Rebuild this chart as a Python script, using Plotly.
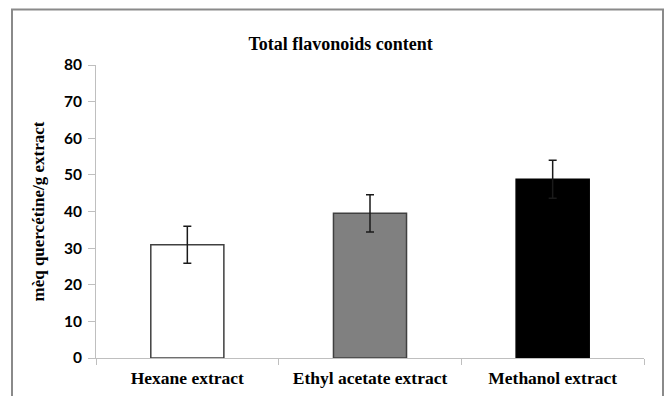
import plotly.graph_objects as go

# Total flavonoid content of each extract (mg quercetin equivalent / g extract)
extracts = ["Hexane extract", "Ethyl acetate extract", "Methanol extract"]
flavonoids = [30.9, 39.5, 48.8]
flavonoids_sd = [5.05, 5.1, 5.2]
bar_colors = ["#ffffff", "#808080", "#000000"]
bar_outlines = ["#404040", "#404040", "#000000"]
y_ticks = [0, 10, 20, 30, 40, 50, 60, 70, 80]

fig = go.Figure(
    go.Bar(
        x=extracts,
        y=flavonoids,
        width=0.4,
        marker=dict(color=bar_colors, line=dict(color=bar_outlines, width=1.5)),
        error_y=dict(type="data", array=flavonoids_sd, visible=True,
                     color="#1a1a1a", thickness=1.5, width=4),
    )
)

# plot region spans px 96..644 horizontally and 65..358 vertically
L, R, T, B = 96, 24, 65, 38
W, H = 668, 396
pw, ph = W - L - R, H - T - B

def px_x(x):
    return (x - L) / pw

def px_y(y):
    return (H - B - y) / ph

# chart-area frame
fig.add_shape(type="rect", xref="paper", yref="paper",
              x0=px_x(12), x1=px_x(663), y0=px_y(405), y1=px_y(9.5),
              line=dict(color="#8a8a8a", width=2), fillcolor="rgba(0,0,0,0)",
              layer="below")

fig.update_layout(
    width=W, height=H,
    margin=dict(l=L, r=R, t=T, b=B, autoexpand=False),
    paper_bgcolor="white", plot_bgcolor="white",
    showlegend=False,
    title=dict(text="Total flavonoids content", xref="container", x=0.51,
               xanchor="center", yref="container", y=1 - 44 / H, yanchor="middle",
               font=dict(family="Liberation Serif", size=18, color="#000",
                         weight="bold")),
    bargap=0.6,
)

fig.update_xaxes(
    type="category", automargin=False,
    showline=True, linecolor="#bfbfbf", linewidth=1,
    ticks="outside", tickson="boundaries", ticklen=6, tickcolor="#bfbfbf",
    showgrid=False, zeroline=False, ticklabelstandoff=4,
    tickfont=dict(family="Liberation Serif", size=17.5, color="#000", weight="bold"),
)

fig.update_yaxes(
    range=[0, 80], tickvals=y_ticks, automargin=False,
    showline=True, linecolor="#bfbfbf", linewidth=1,
    ticks="outside", ticklen=7, tickcolor="#bfbfbf",
    showgrid=False, zeroline=False, ticklabelstandoff=3,
    tickfont=dict(family="Lato", size=15.5, color="#000", weight="bold"),
    title=dict(text="mèq quercétine/g extract", standoff=14,
               font=dict(family="Liberation Serif", size=17, color="#000",
                         weight="bold")),
)

fig.write_html("out.html")
